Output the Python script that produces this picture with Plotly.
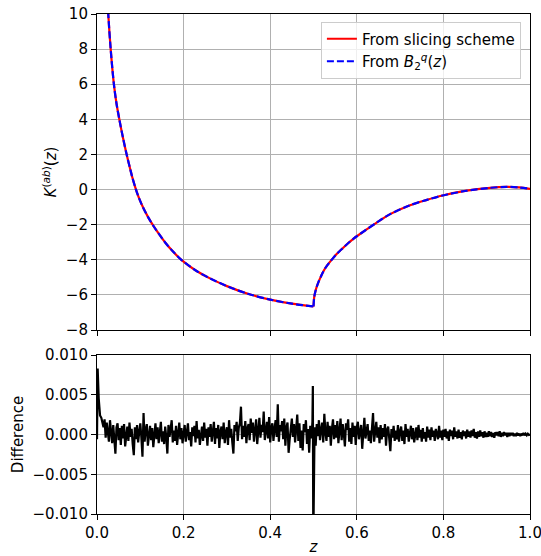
import plotly.graph_objects as go

# ---- top panel: kernel values ----
z_curve = [0.020, 0.026, 0.0316, 0.039, 0.045, 0.0516, 0.060, 0.0685, 0.0762, 0.0815,
           0.090, 0.098, 0.107, 0.118, 0.130, 0.143, 0.157, 0.175, 0.1956, 0.23,
           0.261, 0.30, 0.35, 0.40, 0.45, 0.50, 0.5015, 0.503, 0.506, 0.511,
           0.517, 0.523, 0.532, 0.542, 0.553, 0.565, 0.578, 0.592, 0.60, 0.646,
           0.677, 0.72, 0.76, 0.798, 0.85, 0.908, 0.946, 0.975, 1.0]
k_slicing = [13.0, 10.0, 8.0, 6.0, 4.9, 4.0, 2.95, 2.0, 1.22, 0.70,
             0.0, -0.55, -1.05, -1.57, -2.06, -2.53, -3.0, -3.52, -4.02, -4.64,
             -5.06, -5.50, -5.95, -6.27, -6.50, -6.66, -6.16, -5.95, -5.65, -5.30,
             -4.96, -4.65, -4.31, -4.0, -3.68, -3.40, -3.10, -2.81, -2.66, -1.88,
             -1.40, -0.92, -0.60, -0.34, -0.08, 0.10, 0.15, 0.12, 0.04]
k_b2q = list(k_slicing)
kink_z = 0.50

# ---- bottom panel: difference (units of 1e-3) ----
diff_head_z = [0.0, 0.0015, 0.004, 0.007]
diff_head = [-0.6, 8.3, 4.5, 2.4]

diff_left = [  # z = 0.0100 ... 0.4975, step 0.0025
    2.1, 1.6, 0.9, 1.9, -0.4, 1.5, 0.2, -0.9, 1.8, 0.5, -1.1, 1.2, -0.2, -2.4, 0.9, 1.4, -0.7, 0.8, -1.3, 1.1,
    -0.5, 1.3, -1.5, 0.4, 1.0, -0.8, 1.5, -0.3, 0.7, -1.2, -2.6, 0.9, -0.6, 1.2, -1.0, 0.3, 1.4, -0.4, -2.8, 2.7,
    -0.9, 0.6, 1.3, -1.4, 0.2, 1.1, -0.7, 0.8, -1.6, 0.5, 1.4, -0.6, 0.9, -1.1, 0.3, 1.6, -0.9, 0.4, -1.2, 1.0,
    -0.4, -2.4, 1.2, -0.3, 0.7, 1.8, -1.0, 0.5, -0.8, 1.1, -1.3, 0.2, 1.5, -0.6, 0.8, -1.1, 0.4, 1.2, -0.9, 0.6,
    1.4, -0.7, 0.3, -1.5, 0.9, -0.2, 1.1, -1.0, 1.7, -0.5, 0.6, -1.3, 0.2, 1.0, -0.8, 1.5, -0.4, 0.7, -1.4, 0.9,
    -0.3, 1.3, -0.9, 0.5, 1.6, -1.2, 0.8, -0.5, 1.2, -1.7, 0.4, 1.0, -0.6, 1.5, -1.1, 0.3, 0.9, -1.3, 1.8, -0.4,
    0.7, -1.0, -2.4, 1.2, 0.4, 1.6, -0.8, 0.9, 1.4, 3.5, -0.6, 1.1, -0.3, 1.7, -1.1, 0.8, 1.3, -0.7, 2.0, 0.2,
    1.5, -0.9, 0.6, 1.9, -1.2, 0.8, 2.1, -0.4, 1.2, 0.3, 2.9, -0.7, 1.0, 1.6, -0.5, 2.2, -1.0, 0.9, 1.4, -0.8,
    0.7, 1.8, -0.3, 3.8, -0.9, 1.2, 0.4, 1.7, -0.6, 2.0, -1.4, 0.9, 1.5, -2.3, -0.6, 1.1, 2.0, -0.3, 1.3, -1.0,
    0.8, 2.5, -0.8, 1.4, -1.7, 0.5, -2.0, 1.3, 0.3, 1.8, -1.2, 0.7, -2.3, 1.1, -0.5, 1.6]
diff_spike_z = [0.4985, 0.4995]
diff_spike = [6.1, -14.0]
diff_right = [  # z = 0.5025 ... 1.0000, step 0.0025
    0.9, -1.4, 1.3, -0.2, 1.8, -0.7, 0.6, 1.5, -1.0, 2.6, 0.2, -0.8, 1.6, -0.3, 1.1, -1.4, 0.7, 1.9, -0.6, 1.2,
    -0.4, 1.7, -1.1, 0.5, 2.0, -0.7, 1.3, 0.1, -1.5, 1.4, 0.6, 1.9, -0.9, 0.8, -1.2, 1.5, -0.3, 1.1, -1.3, 0.9,
    1.6, -0.6, 0.4, 1.2, -1.8, 1.0, 2.1, -0.5, 0.7, 1.3, -0.8, 0.5, -1.1, 1.4, 2.7, -0.9, 0.6, 1.6, -0.4, 0.9,
    -1.1, 1.2, -0.6, 0.8, -0.3, 1.3, -1.4, 0.6, 1.0, -0.9, -2.1, 0.7, -0.4, 1.1, -0.8, 0.5, -0.6, 1.2, -0.9, 0.4,
    1.0, -0.8, 0.5, -1.2, 1.3, -0.3, 0.7, -0.9, 0.4, 1.1, -0.6, 0.8, -1.0, 0.3, 0.9, -0.7, 1.2, -0.4, 0.6, -0.9,
    0.8, -0.5, 0.3, -0.9, 1.0, -0.4, 0.6, -0.7, 0.9, -0.3, 0.5, -0.8, 0.7, 0.1, -0.6, 1.1, -0.4, 0.5, -0.7, 0.6,
    -0.3, 0.7, -0.5, 0.4, -0.8, 0.6, -0.2, 0.5, -0.6, 0.9, -0.3, 0.4, -0.5, 0.6, -0.4, 0.3, -0.6, 0.5, -0.2, 0.4,
    -0.5, 0.6, -0.3, 0.4, -0.4, 0.5, -0.2, 0.7, -0.4, 0.3, -0.5, 0.4, -0.3, 0.5, -0.2, 0.3, -0.4, 0.4, -0.3, 0.2,
    -0.3, 0.4, -0.2, 0.3, -0.3, 0.2, -0.4, 0.3, -0.1, 0.3, -0.2, 0.4, -0.3, 0.2, -0.2, 0.3, -0.1, 0.2, -0.3, 0.2,
    -0.2, 0.2, -0.1, 0.2, -0.2, 0.1, -0.2, 0.2, -0.1, 0.1, -0.2, 0.1, -0.1, 0.2, -0.1, 0.1, -0.1, 0.1, -0.05, 0.0]

x_ticks = [0.0, 0.2, 0.4, 0.6, 0.8, 1.0]
top_y_ticks = [-8, -6, -4, -2, 0, 2, 4, 6, 8, 10]
bot_y_ticks = [-0.010, -0.005, 0.0, 0.005, 0.010]

# assemble difference series
z_left = [round(0.010 + 0.0025 * i, 5) for i in range(len(diff_left))]
z_right = [round(0.5025 + 0.0025 * i, 5) for i in range(len(diff_right))]
diff_z = diff_head_z + z_left + diff_spike_z + z_right
diff_vals = [v * 1e-3 for v in diff_head + diff_left + diff_spike + diff_right]

# split the kernel curves at the kink so the spline keeps the corner
ik = z_curve.index(kink_z)
segments = [(0, ik + 1), (ik, len(z_curve))]

FONT = "DejaVu Sans"
fig = go.Figure()
series = [("From slicing scheme", k_slicing, "#ff0000", "solid", "g1"),
          ("From <i>B</i><sub>2</sub><sup><i>q</i></sup>(<i>z</i>)", k_b2q, "#0000ff", "7px,3px", "g2")]
for name, vals, color, dash, grp in series:
    for j, (a, b) in enumerate(segments):
        fig.add_trace(go.Scatter(
            x=z_curve[a:b], y=vals[a:b], mode="lines", name=name,
            legendgroup=grp, showlegend=(j == 0),
            line=dict(color=color, width=2.2, dash=dash, shape="spline", smoothing=0.9),
            xaxis="x", yaxis="y"))
fig.add_trace(go.Scatter(x=diff_z, y=diff_vals, mode="lines", showlegend=False,
                         line=dict(color="#000000", width=2.2), xaxis="x2", yaxis="y2"))

axis_common = dict(showline=True, mirror=True, linecolor="black", linewidth=1.1,
                   ticks="outside", ticklen=5, tickwidth=1.1, tickcolor="black",
                   showgrid=True, gridcolor="#b0b0b0", gridwidth=1.1, zeroline=False,
                   automargin=False, ticklabeloverflow="allow",
                   tickfont=dict(family=FONT, size=15, color="black"))

fig.update_layout(
    width=541, height=556,
    margin=dict(l=97, r=11, t=14, b=42, autoexpand=False),
    paper_bgcolor="white", plot_bgcolor="white",
    font=dict(family=FONT, size=15, color="black"),
    showlegend=True,
    legend=dict(x=0.979, y=0.985, xanchor="right", yanchor="top", tracegroupgap=0,
                bgcolor="rgba(255,255,255,0.8)", bordercolor="#cccccc", borderwidth=1,
                font=dict(family=FONT, size=15)),
    xaxis=dict(domain=[0, 1], anchor="y", range=[0, 1], tickvals=x_ticks,
               showticklabels=False, **axis_common),
    yaxis=dict(domain=[0.368, 1.0], anchor="x", range=[-8, 10], tickvals=top_y_ticks,
               title=dict(text="<i>K</i><sup>(<i>ab</i>)</sup>(<i>z</i>)", standoff=5,
                          font=dict(family=FONT, size=15)),
               **axis_common),
    xaxis2=dict(domain=[0, 1], anchor="y2", range=[0, 1], tickvals=x_ticks, tickformat=".1f",
                title=dict(text="<i>z</i>", standoff=2, font=dict(family=FONT, size=15)),
                **axis_common),
    yaxis2=dict(domain=[0, 0.318], anchor="x2", range=[-0.010, 0.010], tickvals=bot_y_ticks,
                tickformat=".3f",
                title=dict(text="Difference", standoff=5, font=dict(family=FONT, size=15)),
                **axis_common),
)

fig.write_html("out.html",
               config={"displayModeBar": False},
               post_script="document.body.style.margin='0';"
                           "document.documentElement.style.overflow='hidden';"
                           "document.body.style.overflow='hidden';")
